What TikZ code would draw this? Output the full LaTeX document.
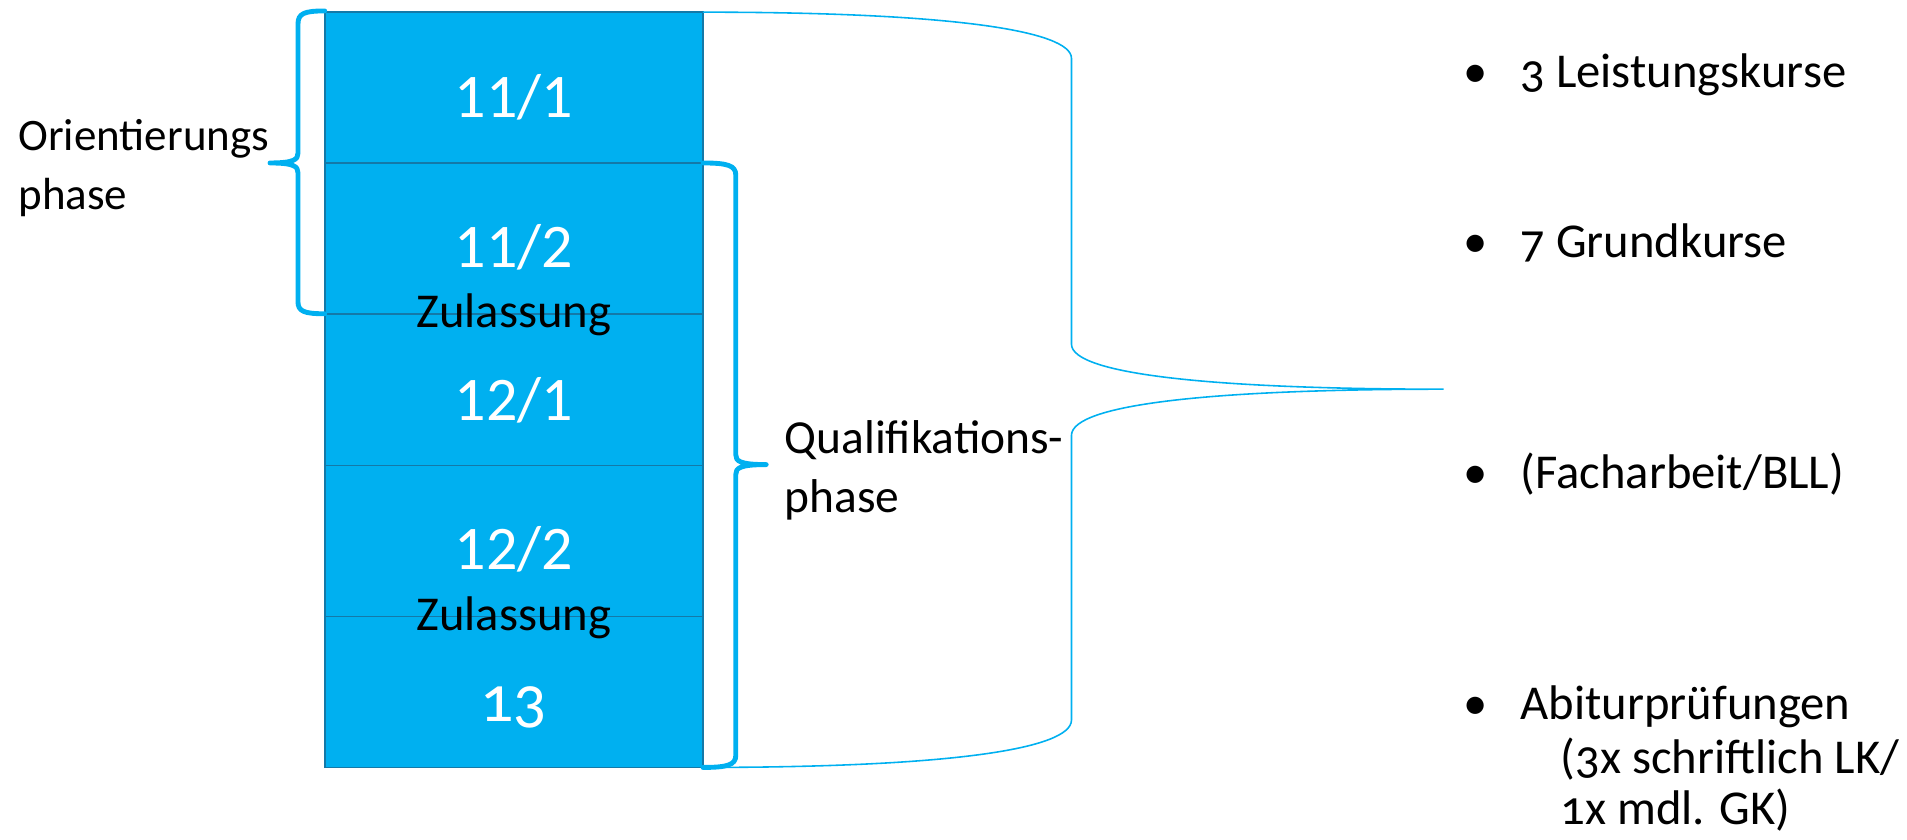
\documentclass[tikz,border=0pt]{standalone}
\usepackage{fontspec}
\setmainfont{Carlito}[Numbers=OldStyle]
\newfontfamily\liningfont{Carlito}[Numbers=Lining]
\definecolor{cyanfill}{HTML}{00B0F0}
\definecolor{cyanedge}{HTML}{1479A8}
\begin{document}
\begin{tikzpicture}[x=1pt,y=-1pt,
  rowbox/.style={draw=cyanedge,line width=1.3pt,fill=cyanfill,minimum width=311pt,minimum height=124.2pt,inner sep=0pt},
  numlbl/.style={text=white,font=\liningfont\fontsize{51}{55}\selectfont,inner sep=0pt},
  oldnum/.style={text=white,font=\fontsize{54}{58}\selectfont,inner sep=0pt},
  lbl/.style={font=\fontsize{37}{44}\selectfont,inner sep=0pt,anchor=base west},
  rlbl/.style={font=\fontsize{40}{46}\selectfont,inner sep=0pt,anchor=base west},
  zul/.style={font=\fontsize{40}{46}\selectfont,inner sep=0pt,anchor=center},
  thickbrace/.style={draw=cyanfill,line width=4pt,line cap=round,line join=round},
  thinbrace/.style={draw=cyanfill,line width=1.3pt}]
\useasboundingbox (0,0) rectangle (1568,690);
% rows
\node[rowbox] (r1) at (422.5,72.1) {};
\node[rowbox] (r2) at (422.5,196.3) {};
\node[rowbox] (r3) at (422.5,320.5) {};
\node[rowbox] (r4) at (422.5,444.7) {};
\node[rowbox] (r5) at (422.5,568.9) {};
% row labels
\node[numlbl] (n1) at (422.5,80) {11/1};
\node[numlbl] (n2) at (422.5,203) {11/2};
\node[numlbl] (n3) at (422.5,329) {12/1};
\node[numlbl] (n4) at (422.5,452) {12/2};
\node[oldnum] (n5) at (422.5,582) {13};
\node[zul] (z1) at (422.5,259) {Zulassung};
\node[zul] (z2) at (422.5,508) {Zulassung};
% left brace
\coordinate (lbt) at (267,9);
\coordinate (lbb) at (267,258);
\coordinate (lbtip) at (222,134);
\draw[thickbrace] (lbt) .. controls (250,9) and (245,11) .. (245,20)
  -- (245,126) .. controls (245,131) and (242,134) .. (lbtip)
  (lbtip) .. controls (242,134) and (245,137) .. (245,142)
  -- (245,248) .. controls (245,256) and (250,258) .. (lbb);
% right brace
\coordinate (rbt) at (578,134);
\coordinate (rbb) at (578,631);
\coordinate (rbtip) at (630,382);
\draw[thickbrace] (rbt) .. controls (598,134) and (605,136) .. (605,144)
  -- (605,374) .. controls (605,379) and (608,382) .. (rbtip)
  (rbtip) .. controls (608,382) and (605,385) .. (605,390)
  -- (605,621) .. controls (605,629) and (598,631) .. (rbb);
% big thin brace
\coordinate (bt) at (578,10);
\coordinate (bb) at (578,631);
\coordinate (btip) at (1187,320);
\draw[thinbrace] (bt) .. controls (780,10) and (881,25) .. (881,48)
  -- (881,283) .. controls (881,308) and (1000,320) .. (btip)
  (btip) .. controls (1000,320) and (881,332) .. (881,358)
  -- (881,592) .. controls (881,616) and (780,631) .. (bb);
% phase labels
\node[lbl] (o1) at (15,124) {Orientierungs};
\node[lbl] (o2) at (15,172) {phase};
\node[font=\fontsize{39}{46}\selectfont,inner sep=0pt,anchor=base west] (q1) at (645,373) {Qualifikations-};
\node[font=\fontsize{39}{46}\selectfont,inner sep=0pt,anchor=base west] (q2) at (645,421) {phase};
% right list
\node[rlbl] (b1) at (1203,72) {•};
\node[rlbl] (t1) at (1250,72) {3 Leistungskurse};
\node[rlbl] (b2) at (1203,212) {•};
\node[rlbl] (t2) at (1250,212) {7 Grundkurse};
\node[rlbl] (b3) at (1203,402) {•};
\node[rlbl] (t3) at (1250,402) {(Facharbeit/BLL)};
\node[rlbl] (b4) at (1203,592) {•};
\node[rlbl] (t4) at (1250,592) {Abiturprüfungen};
\node[rlbl] (t5) at (1283,636) {(3x schriftlich LK/};
\node[rlbl] (t6) at (1283,678) {1x mdl. GK)};
\end{tikzpicture}
\end{document}
